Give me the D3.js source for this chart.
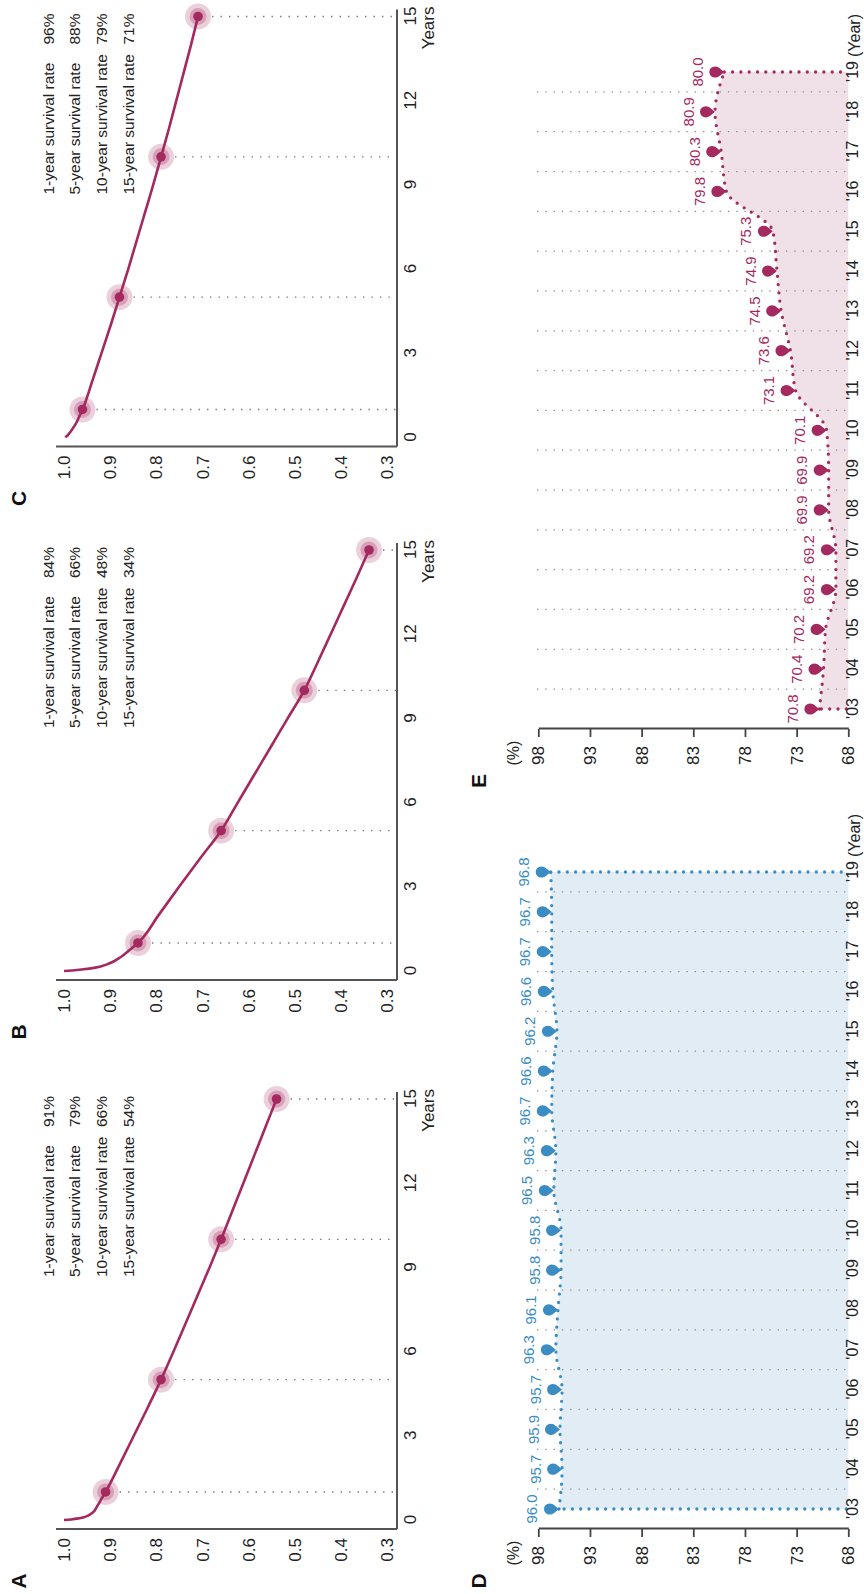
<!DOCTYPE html>
<html>
<head>
<meta charset="utf-8">
<script src="https://cdn.jsdelivr.net/npm/d3@7"></script>
<style>
  html, body { margin: 0; padding: 0; background: #fff; }
  svg { display: block; }
  text { font-family: "Liberation Sans Narrow", "Liberation Sans", Arial, sans-serif; fill: #222; }
  .legend text { font-family: "Liberation Sans", Arial, sans-serif; }
  .letter { font-family: "Liberation Sans", Arial, sans-serif; font-weight: bold; font-size: 21px; fill: #111; }
</style>
</head>
<body>
<svg id="chart" width="864" height="1594"></svg>
<script>
// ---- Survival curves (panels A, B, C) ----
const survivalTimes = [0, 0.02, 0.06, 0.12, 0.25, 0.5, 0.75, 1, 2, 3, 4, 5, 6, 7, 8, 9, 10, 11, 12, 13, 14, 15];
const survivalA = [1.0, 0.985, 0.967, 0.953, 0.939, 0.928, 0.919, 0.91, 0.879, 0.849, 0.819, 0.79, 0.763, 0.737, 0.711, 0.685, 0.66, 0.636, 0.612, 0.588, 0.564, 0.54];
const survivalB = [1.0, 0.982, 0.958, 0.932, 0.905, 0.877, 0.858, 0.84, 0.795, 0.751, 0.706, 0.66, 0.624, 0.588, 0.552, 0.516, 0.48, 0.451, 0.423, 0.395, 0.367, 0.34];
const survivalC = [0.997, 0.996, 0.993, 0.99, 0.984, 0.974, 0.967, 0.96, 0.939, 0.919, 0.899, 0.88, 0.861, 0.843, 0.825, 0.807, 0.79, 0.773, 0.757, 0.741, 0.725, 0.71];

const milestoneYears = [1, 5, 10, 15];
const milestoneA = [0.91, 0.79, 0.66, 0.54];
const milestoneB = [0.84, 0.66, 0.48, 0.34];
const milestoneC = [0.96, 0.88, 0.79, 0.71];
const milestoneNames = ["1-year survival rate", "5-year survival rate", "10-year survival rate", "15-year survival rate"];

const survivalYTicks = [1.0, 0.9, 0.8, 0.7, 0.6, 0.5, 0.4, 0.3];
const survivalXTicks = [0, 3, 6, 9, 12, 15];

// ---- Yearly rates (panels D, E) ----
const yearLabels = ["'03", "'04", "'05", "'06", "'07", "'08", "'09", "'10", "'11", "'12", "'13", "'14", "'15", "'16", "'17", "'18", "'19"];
const rateD = [96.0, 95.7, 95.9, 95.7, 96.3, 96.1, 95.8, 95.8, 96.5, 96.3, 96.7, 96.6, 96.2, 96.6, 96.7, 96.7, 96.8];
const rateE = [70.8, 70.4, 70.2, 69.2, 69.2, 69.9, 69.9, 70.1, 73.1, 73.6, 74.5, 74.9, 75.3, 79.8, 80.3, 80.9, 80.0];
const rateTicks = [98, 93, 88, 83, 78, 73, 68];

// ---- colours ----
const crimson = "#a3295f";
const blue = "#3a8cc3";

// The figure is laid out in landscape (1594 x 864) and turned to read upwards.
const LW = 1594;
const svg = d3.select("#chart");
const root = svg.append("g").attr("transform", `translate(0,${LW}) rotate(-90)`);

// ================= Survival panels =================
const sx = d3.scaleLinear().domain([0, 15]).range([74, 495]);
const sy = d3.scaleLinear().domain([0.3, 1.0]).range([387.5, 64]);

const survivalPanels = [
  { letter: "A", offset: 0, curve: survivalA, points: milestoneA },
  { letter: "B", offset: 549, curve: survivalB, points: milestoneB },
  { letter: "C", offset: 1082.5, curve: survivalC, points: milestoneC }
];

survivalPanels.forEach(p => {
  const g = root.append("g").attr("transform", `translate(${p.offset},0)`);

  g.append("text").attr("class", "letter").attr("x", 13).attr("y", 26)
    .attr("text-anchor", "middle").text(p.letter);

  // frame: left and bottom axis lines
  g.append("line").attr("x1", 65).attr("x2", 65).attr("y1", 56).attr("y2", 397)
    .attr("stroke", "#555").attr("stroke-width", 2);
  g.append("line").attr("x1", 65).attr("x2", 502).attr("y1", 397).attr("y2", 397)
    .attr("stroke", "#555").attr("stroke-width", 2);

  // y axis labels
  const yAxis = d3.axisLeft(sy).tickValues(survivalYTicks).tickSize(0).tickPadding(0)
    .tickFormat(d3.format(".1f"));
  const ya = g.append("g").attr("transform", "translate(56,0)").call(yAxis);
  ya.select(".domain").remove();
  ya.selectAll("text").attr("font-size", 17).attr("font-family", null).style("fill", "#222");

  // x axis labels
  const xAxis = d3.axisBottom(sx).tickValues(survivalXTicks).tickSize(0).tickPadding(0);
  const xa = g.append("g").attr("transform", "translate(0,404)").call(xAxis);
  xa.select(".domain").remove();
  xa.selectAll("text").attr("font-size", 17).attr("font-family", null).style("fill", "#222");

  g.append("text").attr("x", 505).attr("y", 434).attr("text-anchor", "end")
    .attr("font-size", 17).text("Years");

  // dotted drop lines from each milestone to the time axis
  g.selectAll(".drop").data(milestoneYears).enter().append("line")
    .attr("x1", d => sx(d)).attr("x2", d => sx(d))
    .attr("y1", (d, i) => sy(p.points[i]) + 14).attr("y2", 396)
    .attr("stroke", "#777").attr("stroke-width", 1.4).attr("stroke-dasharray", "1.4 7.1");

  // survival curve
  const line = d3.line().x((d, i) => sx(survivalTimes[i])).y(d => sy(d)).curve(d3.curveMonotoneX);
  g.append("path").attr("d", line(p.curve)).attr("fill", "none")
    .attr("stroke", crimson).attr("stroke-width", 2.6);

  // milestone markers with halo
  const pts = g.selectAll(".pt").data(milestoneYears).enter().append("g")
    .attr("transform", (d, i) => `translate(${sx(d)},${sy(p.points[i])})`);
  pts.append("circle").attr("r", 13).attr("fill", crimson).attr("fill-opacity", 0.22);
  pts.append("circle").attr("r", 8.5).attr("fill", crimson).attr("fill-opacity", 0.28);
  pts.append("circle").attr("r", 4.8).attr("fill", crimson);

  // legend with rates
  const lg = g.append("g").attr("class", "legend");
  milestoneNames.forEach((name, i) => {
    const yy = 53.5 + i * 26.7;
    lg.append("text").attr("x", 317).attr("y", yy).attr("font-size", 15.5).text(name);
    lg.append("text").attr("x", 498).attr("y", yy).attr("text-anchor", "end")
      .attr("font-size", 15.5).text(Math.round(p.points[i] * 100) + "%");
  });
});

// ================= Yearly rate panels =================
const ry = d3.scaleLinear().domain([68, 98]).range([848.3, 538.3]);

const ratePanels = [
  { letter: "D", offset: 0, values: rateD, color: blue, fill: "#e1ecf4" },
  { letter: "E", offset: 800, values: rateE, color: crimson, fill: "#f0e1e8" }
];

ratePanels.forEach(p => {
  const g = root.append("g").attr("transform", `translate(${p.offset},0)`);
  const x = d3.scalePoint().domain(yearLabels).range([85, 722]);

  g.append("text").attr("class", "letter").attr("x", 13).attr("y", 486)
    .attr("text-anchor", "middle").text(p.letter);

  const base = ry(68);

  // shaded area under the rate line
  const area = d3.area().x((d, i) => x(yearLabels[i])).y0(base).y1(d => ry(d))
    .curve(d3.curveMonotoneX);
  g.append("path").attr("d", area(p.values)).attr("fill", p.fill);

  // dotted year separators
  const mids = yearLabels.slice(0, -1).map((yl, i) => (x(yl) + x(yearLabels[i + 1])) / 2);
  g.selectAll(".grid").data(mids).enter().append("line")
    .attr("x1", d => d).attr("x2", d => d).attr("y1", 537).attr("y2", 847)
    .attr("stroke", "#8a8a8a").attr("stroke-width", 1.3).attr("stroke-dasharray", "1.3 7");

  // dotted outline: left edge, rate line, right edge
  const dotted = sel => sel.attr("fill", "none").attr("stroke", p.color).attr("stroke-width", 3.3)
    .attr("stroke-linecap", "round").attr("stroke-dasharray", "0 8.3");
  const rline = d3.line().x((d, i) => x(yearLabels[i])).y(d => ry(d)).curve(d3.curveMonotoneX);
  const first = p.values[0], last = p.values[p.values.length - 1];
  g.append("path").attr("d", d3.line()([[x(yearLabels[0]), base - 2], [x(yearLabels[0]), ry(first)]])).call(dotted);
  g.append("path").attr("d", rline(p.values)).call(dotted);
  g.append("path").attr("d", d3.line()([[x(yearLabels[yearLabels.length - 1]), ry(last)], [x(yearLabels[yearLabels.length - 1]), base - 2]])).call(dotted);

  // pin markers
  const pin = "M0,0 C-1.8,-2.6 -5.6,-5.2 -5.6,-9.4 A5.6,5.6 0 1 1 5.6,-9.4 C5.6,-5.2 1.8,-2.6 0,0 Z";
  g.selectAll(".pin").data(p.values).enter().append("path")
    .attr("d", pin).attr("fill", p.color)
    .attr("transform", (d, i) => `translate(${x(yearLabels[i])},${ry(d)})`);

  // value labels
  g.selectAll(".val").data(p.values).enter().append("text")
    .attr("x", (d, i) => x(yearLabels[i])).attr("y", d => ry(d) - 21.5)
    .attr("text-anchor", "middle").attr("font-size", 15).style("fill", p.color)
    .text(d => d3.format(".1f")(d));

  // value axis
  const yAxis = d3.axisLeft(ry).tickValues(rateTicks).tickSize(8).tickSizeOuter(0).tickPadding(9);
  const ya = g.append("g").attr("transform", "translate(65,0)").call(yAxis);
  ya.select(".domain").attr("stroke", "#444").attr("stroke-width", 1.8);
  ya.selectAll(".tick line").attr("stroke", "#444").attr("stroke-width", 1.8);
  ya.selectAll("text").attr("font-size", 17).attr("font-family", null).style("fill", "#222");

  g.append("text").attr("x", 41).attr("y", 519).attr("text-anchor", "middle")
    .attr("font-size", 16).text("(%)");

  // year axis labels
  const xAxis = d3.axisBottom(x).tickSize(0).tickPadding(0);
  const xa = g.append("g").attr("transform", "translate(0,847)").call(xAxis);
  xa.select(".domain").remove();
  xa.selectAll("text").attr("font-size", 16).attr("font-family", null).style("fill", "#222");

  g.append("text").attr("x", x(yearLabels[yearLabels.length - 1]) + 15).attr("y", 860)
    .attr("font-size", 16).text("(Year)");
});
</script>
</body>
</html>
